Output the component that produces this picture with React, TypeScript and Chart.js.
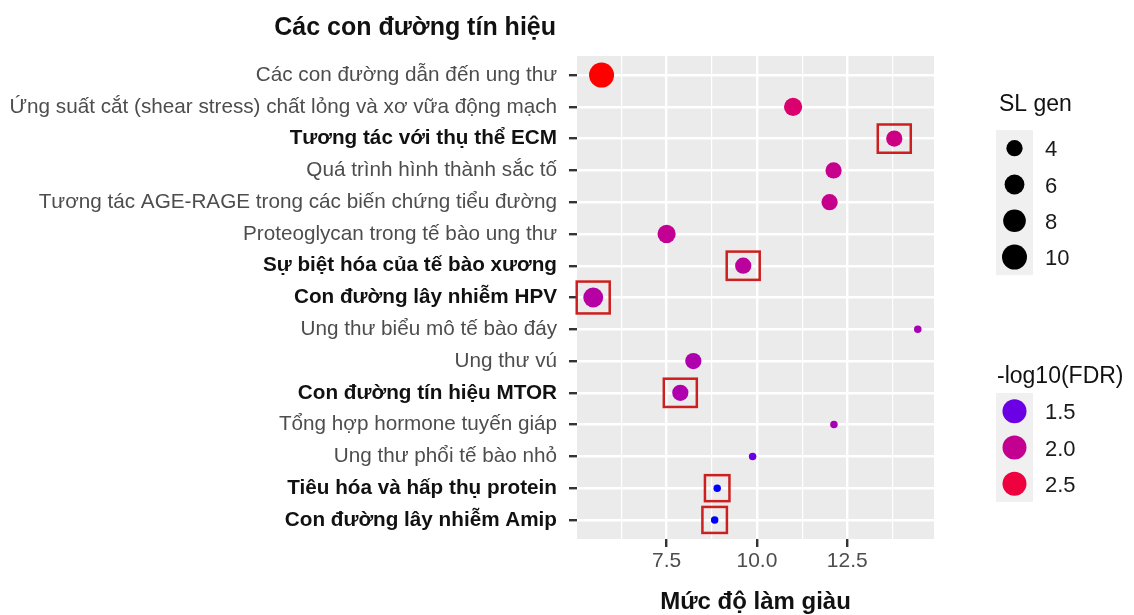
import React, { useEffect, useRef } from "react";
import { Chart, registerables } from "chart.js";

Chart.register(...registerables);

// ---------- data ----------
const CATEGORIES = [
  "Các con đường dẫn đến ung thư",
  "Ứng suất cắt (shear stress) chất lỏng và xơ vữa động mạch",
  "Tương tác với thụ thể ECM",
  "Quá trình hình thành sắc tố",
  "Tương tác AGE-RAGE trong các biến chứng tiểu đường",
  "Proteoglycan trong tế bào ung thư",
  "Sự biệt hóa của tế bào xương",
  "Con đường lây nhiễm HPV",
  "Ung thư biểu mô tế bào đáy",
  "Ung thư vú",
  "Con đường tín hiệu MTOR",
  "Tổng hợp hormone tuyến giáp",
  "Ung thư phổi tế bào nhỏ",
  "Tiêu hóa và hấp thụ protein",
  "Con đường lây nhiễm Amip",
];
const ENRICHMENT = [5.7, 11.0, 13.8, 12.12, 12.01, 7.5, 9.62, 5.47, 14.45, 8.24, 7.88, 12.13, 9.88, 8.9, 8.83];
const GENE_COUNT = [10, 5, 4, 4, 4, 5, 4, 6, 2, 4, 4, 2, 2, 2, 2];
const NEG_LOG10_FDR = [2.75, 2.22, 2.08, 2.02, 2.02, 1.98, 1.93, 1.88, 1.78, 1.83, 1.83, 1.78, 1.5, 1.35, 1.35];
const HIGHLIGHTED = [2, 6, 7, 10, 13, 14];
const X_MAJOR_TICKS = [7.5, 10, 12.5];
const X_MINOR_TICKS = [6.25, 8.75, 11.25, 13.75];
const SIZE_BREAKS = [4, 6, 8, 10];
const COLOR_BREAKS = [1.5, 2.0, 2.5];

const TITLE = "Các con đường tín hiệu";
const X_TITLE = "Mức độ làm giàu";
const SIZE_TITLE = "SL gen";
const COLOR_TITLE = "-log10(FDR)";

// ---------- scales ----------
const FONT = "'Liberation Sans', Arial, sans-serif";
const sizeMin = Math.min(...GENE_COUNT);
const sizeMax = Math.max(...GENE_COUNT);
function sizeRadius(n: number) {
  const t = (n - sizeMin) / (sizeMax - sizeMin);
  return (7.5 + 17.5 * Math.sqrt(Math.max(0, t))) / 2;
}

function srgbToLinear(c: number) {
  c /= 255;
  return c <= 0.04045 ? c / 12.92 : Math.pow((c + 0.055) / 1.055, 2.4);
}
function linearToSrgb(c: number) {
  const v = c <= 0.0031308 ? 12.92 * c : 1.055 * Math.pow(c, 1 / 2.4) - 0.055;
  return Math.round(Math.max(0, Math.min(1, v)) * 255);
}
const Xn = 0.95047, Yn = 1, Zn = 1.08883;
function rgbToLab(rgb: number[]) {
  const [r, g, b] = rgb.map(srgbToLinear);
  const X = 0.4124 * r + 0.3576 * g + 0.1805 * b;
  const Y = 0.2126 * r + 0.7152 * g + 0.0722 * b;
  const Z = 0.0193 * r + 0.1192 * g + 0.9505 * b;
  const f = (t: number) => (t > 0.008856 ? Math.cbrt(t) : 7.787 * t + 16 / 116);
  const fx = f(X / Xn), fy = f(Y / Yn), fz = f(Z / Zn);
  return [116 * fy - 16, 500 * (fx - fy), 200 * (fy - fz)];
}
function labToRgb(lab: number[]) {
  const [L, a, b] = lab;
  const fy = (L + 16) / 116;
  const fx = fy + a / 500;
  const fz = fy - b / 200;
  const finv = (t: number) => (t * t * t > 0.008856 ? t * t * t : (t - 16 / 116) / 7.787);
  const X = Xn * finv(fx), Y = Yn * finv(fy), Z = Zn * finv(fz);
  const r = 3.2406 * X - 1.5372 * Y - 0.4986 * Z;
  const g = -0.9689 * X + 1.8758 * Y + 0.0415 * Z;
  const bb = 0.0557 * X - 0.204 * Y + 1.057 * Z;
  return [linearToSrgb(r), linearToSrgb(g), linearToSrgb(bb)];
}
const LOW_LAB = rgbToLab([0, 0, 255]);
const HIGH_LAB = rgbToLab([255, 0, 0]);
const colMin = Math.min(...NEG_LOG10_FDR);
const colMax = Math.max(...NEG_LOG10_FDR);
function fdrColor(v: number) {
  const t = Math.max(0, Math.min(1, (v - colMin) / (colMax - colMin)));
  const lab = LOW_LAB.map((l, i) => l + (HIGH_LAB[i] - l) * t);
  const [r, g, b] = labToRgb(lab);
  return `rgb(${r},${g},${b})`;
}

const xRange = Math.max(...ENRICHMENT) - Math.min(...ENRICHMENT);
const X_MIN = Math.min(...ENRICHMENT) - 0.05 * xRange;
const X_MAX = Math.max(...ENRICHMENT) + 0.05 * xRange;
const ALL_X_TICKS = [...X_MAJOR_TICKS, ...X_MINOR_TICKS].sort((a, b) => a - b);
const isMajor = (v: number) => X_MAJOR_TICKS.some((m) => Math.abs(m - v) < 1e-6);

// ---------- plugins ----------
const panelBg = {
  id: "panelBg",
  beforeDraw(chart: any) {
    const { ctx, chartArea: a } = chart;
    ctx.save();
    ctx.fillStyle = "#ebebeb";
    ctx.fillRect(a.left, a.top, a.right - a.left, a.bottom - a.top);
    ctx.restore();
  },
};

const highlightBoxes = {
  id: "highlightBoxes",
  afterDatasetsDraw(chart: any) {
    const { ctx } = chart;
    const xs = chart.scales.x, ys = chart.scales.y;
    ctx.save();
    ctx.strokeStyle = "#cc2020";
    ctx.lineWidth = 2.5;
    HIGHLIGHTED.forEach((i) => {
      const px = xs.getPixelForValue(ENRICHMENT[i]);
      const py = ys.getPixelForValue(i);
      const r = sizeRadius(GENE_COUNT[i]);
      const w = Math.min(33, 2 * r + 17);
      const h = Math.max(26, 2 * r + 12);
      ctx.strokeRect(px - w / 2, py - h / 2, w, h);
    });
    ctx.restore();
  },
};

const annotations = {
  id: "annotations",
  afterDraw(chart: any) {
    const { ctx, chartArea: a } = chart;
    ctx.save();
    // title
    ctx.fillStyle = "#111";
    ctx.font = `bold 25px ${FONT}`;
    ctx.textAlign = "right";
    ctx.textBaseline = "alphabetic";
    ctx.fillText(TITLE, 556, 35);
    // x axis title
    ctx.font = `bold 24px ${FONT}`;
    ctx.textAlign = "center";
    ctx.fillText(X_TITLE, (a.left + a.right) / 2, 609);

    // size legend
    ctx.textAlign = "left";
    ctx.font = `23px ${FONT}`;
    ctx.fillStyle = "#111";
    ctx.fillText(SIZE_TITLE, 999, 111);
    const keyH = 36.3;
    ctx.fillStyle = "#f0f0f0";
    ctx.fillRect(996, 130, 37, keyH * SIZE_BREAKS.length);
    SIZE_BREAKS.forEach((b, k) => {
      const cy = 130 + keyH * (k + 0.5);
      ctx.fillStyle = "#000";
      ctx.beginPath();
      ctx.arc(1014.5, cy, sizeRadius(b), 0, Math.PI * 2);
      ctx.fill();
      ctx.fillStyle = "#1a1a1a";
      ctx.font = `22px ${FONT}`;
      ctx.textBaseline = "middle";
      ctx.fillText(String(b), 1045, cy + 2);
      ctx.textBaseline = "alphabetic";
    });

    // color legend
    ctx.font = `23px ${FONT}`;
    ctx.fillStyle = "#111";
    ctx.fillText(COLOR_TITLE, 997, 383);
    ctx.fillStyle = "#f0f0f0";
    ctx.fillRect(996, 393, 37, keyH * COLOR_BREAKS.length);
    COLOR_BREAKS.forEach((b, k) => {
      const cy = 393 + keyH * (k + 0.5);
      ctx.fillStyle = fdrColor(b);
      ctx.beginPath();
      ctx.arc(1014.5, cy, 12, 0, Math.PI * 2);
      ctx.fill();
      ctx.fillStyle = "#1a1a1a";
      ctx.font = `22px ${FONT}`;
      ctx.textBaseline = "middle";
      ctx.fillText(b.toFixed(1), 1045, cy + 2);
      ctx.textBaseline = "alphabetic";
    });
    ctx.restore();
  },
};

export default function App() {
  const canvasRef = useRef<HTMLCanvasElement | null>(null);

  useEffect(() => {
    if (!canvasRef.current) return;
    const chart = new Chart(canvasRef.current, {
      type: "scatter",
      data: {
        datasets: [
          {
            data: ENRICHMENT.map((x, i) => ({ x, y: i })),
            pointRadius: GENE_COUNT.map(sizeRadius),
            pointHoverRadius: GENE_COUNT.map(sizeRadius),
            pointBackgroundColor: NEG_LOG10_FDR.map(fdrColor),
            pointBorderWidth: 0,
            pointBorderColor: "transparent",
          },
        ],
      },
      options: {
        animation: false,
        responsive: true,
        maintainAspectRatio: false,
        layout: { padding: { top: 56, right: 200, left: 0, bottom: 0 } },
        plugins: { legend: { display: false }, tooltip: { enabled: false } },
        scales: {
          x: {
            type: "linear",
            min: X_MIN,
            max: X_MAX,
            afterBuildTicks: (s: any) => {
              s.ticks = ALL_X_TICKS.map((v) => ({ value: v }));
            },
            afterFit: (s: any) => {
              s.height = 76;
            },
            border: { display: false },
            grid: {
              color: "#ffffff",
              lineWidth: (c: any) => (c.tick && isMajor(c.tick.value) ? 2.4 : 1.2),
              tickColor: (c: any) => (c.tick && isMajor(c.tick.value) ? "#333333" : "rgba(0,0,0,0)"),
              tickLength: 8,
              tickWidth: 2.4,
            },
            ticks: {
              autoSkip: false,
              maxRotation: 0,
              padding: 2,
              color: "#4d4d4d",
              font: { family: FONT, size: 21 },
              callback: (v: any) => (isMajor(Number(v)) ? Number(v).toFixed(1) : ""),
            },
          },
          y: {
            type: "linear",
            min: -0.6,
            max: CATEGORIES.length - 1 + 0.6,
            reverse: true,
            afterBuildTicks: (s: any) => {
              s.ticks = CATEGORIES.map((_, i) => ({ value: i }));
            },
            afterFit: (s: any) => {
              s.width = 577;
            },
            border: { display: false },
            grid: {
              color: "#ffffff",
              lineWidth: 2.4,
              tickColor: "#333333",
              tickLength: 8,
              tickWidth: 2.4,
            },
            ticks: {
              autoSkip: false,
              padding: 12,
              color: (c: any) => (HIGHLIGHTED.includes(c.tick?.value) ? "#111111" : "#4d4d4d"),
              font: (c: any) => ({
                family: FONT,
                size: 20.7,
                weight: HIGHLIGHTED.includes(c.tick?.value) ? "bold" : "normal",
              }),
              callback: (v: any) => CATEGORIES[Number(v)] ?? "",
            },
          },
        },
      },
      plugins: [panelBg, highlightBoxes, annotations],
    } as any);
    return () => chart.destroy();
  }, []);

  return (
    <div style={{ position: "fixed", left: 0, top: 0, width: 1134, height: 615, background: "#fff" }}>
      <canvas ref={canvasRef} />
    </div>
  );
}
